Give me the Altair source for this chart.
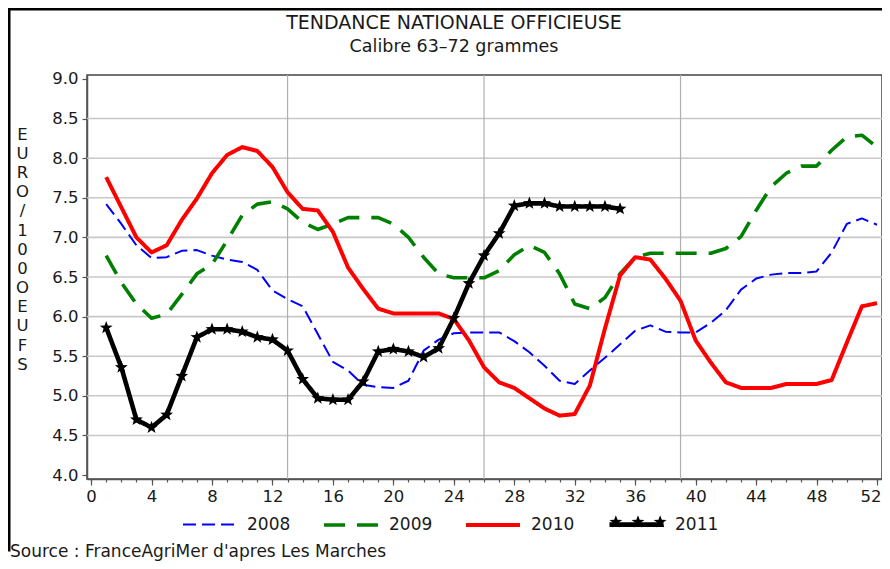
import math
import altair as alt
import pandas as pd

weeks = list(range(1, 53))
years = ["2008", "2009", "2010", "2011"]

p2008 = [7.42, 7.17, 6.90, 6.74, 6.75, 6.83, 6.84, 6.77, 6.72, 6.69,
         6.59, 6.33, 6.22, 6.13, 5.78, 5.43, 5.32, 5.14, 5.11, 5.10,
         5.19, 5.57, 5.71, 5.79, 5.80, 5.80, 5.80, 5.69, 5.55, 5.38,
         5.19, 5.15, 5.32, 5.48, 5.65, 5.82, 5.89, 5.81, 5.80, 5.80,
         5.92, 6.08, 6.34, 6.48, 6.53, 6.55, 6.55, 6.57, 6.81, 7.17, 7.24, 7.16]
p2009 = [6.77, 6.43, 6.16, 5.98, 6.03, 6.28, 6.54, 6.66, 6.96, 7.28,
         7.42, 7.45, 7.36, 7.19, 7.10, 7.17, 7.25, 7.25, 7.25, 7.17,
         7.00, 6.75, 6.54, 6.49, 6.49, 6.49, 6.58, 6.78, 6.90, 6.81,
         6.54, 6.16, 6.10, 6.24, 6.54, 6.75, 6.80, 6.80, 6.80, 6.80,
         6.80, 6.86, 7.01, 7.34, 7.64, 7.81, 7.90, 7.90, 8.10, 8.27, 8.29, 8.14]
p2010 = [7.76, 7.38, 7.00, 6.81, 6.90, 7.22, 7.49, 7.81, 8.04, 8.14,
         8.09, 7.89, 7.57, 7.36, 7.34, 7.07, 6.62, 6.35, 6.10, 6.04,
         6.04, 6.04, 6.04, 5.97, 5.70, 5.36, 5.17, 5.10, 4.97, 4.84,
         4.75, 4.77, 5.13, 5.85, 6.52, 6.75, 6.72, 6.48, 6.20, 5.70,
         5.42, 5.17, 5.10, 5.10, 5.10, 5.15, 5.15, 5.15, 5.20, 5.67, 6.13, 6.17]
p2011 = [5.86, 5.36, 4.70, 4.60, 4.76, 5.25, 5.74, 5.84, 5.84, 5.81,
         5.74, 5.71, 5.57, 5.21, 4.97, 4.95, 4.95, 5.18, 5.56, 5.59,
         5.56, 5.49, 5.60, 5.98, 6.42, 6.77, 7.05, 7.40, 7.43, 7.43,
         7.39, 7.39, 7.39, 7.39, 7.36]

x_ticks = list(range(0, 49, 4))
x_last = [52]
x_minor = list(range(0, 53))
y_ticks = [4.0, 4.5, 5.0, 5.5, 6.0, 6.5, 7.0, 7.5, 8.0, 8.5, 9.0]
y_grid = [4.5, 5.0, 5.5, 6.0, 6.5, 7.0, 7.5, 8.0, 8.5]
x_grid = [13, 26, 39]
y_title = ["E", "U", "R", "O", " ", "/", " ", "1", "0", "0",
           " ", "O", "E", "U", "F", "S"]

colors = ["#0000ff", "#008000", "#ff0000", "#000000"]
dashes = [[13, 6], [21, 12], [1, 0], [1, 0]]
widths = [2.0, 3.6, 4.0, 4.6]

FONT = "DejaVu Sans"
TXT = "#1a1a1a"
AX = "#555555"

rows = []
for yr, vals in zip(years, [p2008, p2009, p2010, p2011]):
    for w, v in zip(weeks, vals):
        rows.append({"week": w, "price": v, "year": yr})
df = pd.DataFrame(rows)
df11 = df[df["year"] == "2011"]


def star(cx, ro, ri):
    pts = []
    for k in range(10):
        a = math.radians(-90 + 36 * k)
        r = ro if k % 2 == 0 else ri
        pts.append(f"{cx + r * math.cos(a):.3f},{r * math.sin(a):.3f}")
    return "M" + " L".join(pts) + " Z"


one_star = star(0.0, 1.0, 0.42)
three_stars = " ".join(star(c, 0.25, 0.105) for c in (-0.82, 0.0, 0.82))

xscale = alt.Scale(domain=[-0.27, 52.33], nice=False, zero=False)
yscale = alt.Scale(domain=[3.95, 9.05], nice=False, zero=False)

leg = alt.Legend(
    title=None, orient="none", direction="horizontal", legendX=95, legendY=420,
    symbolType="stroke", symbolSize=2916, labelFont=FONT, labelFontSize=17,
    labelColor=TXT, labelOffset=9, columnPadding=25, padding=0,
)

hgrid = alt.Chart(pd.DataFrame({"g": y_grid})).mark_rule(
    color="#c8c8c8", strokeWidth=1.6
).encode(y=alt.Y("g:Q", scale=yscale, axis=None))

vgrid = alt.Chart(pd.DataFrame({"g": x_grid})).mark_rule(
    color="#b0b0b0", strokeWidth=1.2
).encode(
    x=alt.X("g:Q", scale=xscale,
            axis=alt.Axis(values=x_minor, tickSize=3, labels=False, domain=False,
                          grid=False, title=None, orient="bottom",
                          tickColor=AX, tickWidth=1.2))
)

lines = alt.Chart(df).mark_line(strokeJoin="round").encode(
    x=alt.X("week:Q", scale=xscale,
            axis=alt.Axis(values=x_ticks, tickSize=6, grid=False, title=None,
                          orient="bottom", labelFont=FONT, labelFontSize=16.5,
                          labelColor=TXT, labelPadding=3, tickColor=AX,
                          tickWidth=1.2, domainColor=AX, domainWidth=1.5)),
    y=alt.Y("price:Q", scale=yscale,
            axis=alt.Axis(values=y_ticks, format=".1f", tickSize=5, grid=False,
                          orient="left",
                          labelFont=FONT, labelFontSize=16.5, labelColor=TXT,
                          labelPadding=4, tickColor=AX, tickWidth=1.2,
                          domainColor=AX, domainWidth=1.5,
                          title=y_title,
                          titleAngle=0, titleAlign="center", titleBaseline="top",
                          titleX=-65, titleY=51, titleLineHeight=19.2,
                          titleFont=FONT, titleFontSize=16.5,
                          titleFontWeight="normal", titleColor=TXT)),
    color=alt.Color("year:N", scale=alt.Scale(domain=years, range=colors), legend=leg),
    strokeDash=alt.StrokeDash("year:N", scale=alt.Scale(domain=years, range=dashes), legend=leg),
    strokeWidth=alt.StrokeWidth("year:N", scale=alt.Scale(type="ordinal", domain=years, range=widths), legend=leg),
    order="week:Q",
)

stars = alt.Chart(df11).mark_point(
    shape=one_star, filled=True, color="black", size=180, opacity=1
).encode(
    x=alt.X("week:Q", scale=xscale,
            axis=alt.Axis(values=x_last, tickSize=6, grid=False, title=None,
                          orient="bottom", domain=False, labelFont=FONT,
                          labelFontSize=16.5, labelColor=TXT, labelPadding=3,
                          labelAlign="right", labelOffset=4, tickColor=AX,
                          tickWidth=1.2)),
    y=alt.Y("price:Q", scale=yscale, axis=None),
)

star_legend = alt.Chart(df11.head(1)).mark_point(filled=True, color="black", opacity=0).encode(
    x=alt.X("week:Q", scale=xscale, axis=None),
    y=alt.Y("price:Q", scale=yscale, axis=None),
    shape=alt.Shape("year:N", scale=alt.Scale(domain=["2011"], range=[three_stars]),
                    legend=alt.Legend(title=None, orient="none", legendX=524, legendY=420,
                                      symbolSize=2916, symbolOpacity=1,
                                      symbolFillColor="black", symbolStrokeWidth=0,
                                      labelOpacity=0, labelFontSize=1, padding=0)),
)

one = pd.DataFrame({"k": [0]})
frame_top = alt.Chart(one).mark_rule(color="black", strokeWidth=3, strokeCap="square").encode(
    x=alt.value(-78), x2=alt.value(810), y=alt.value(-66))
frame_left = alt.Chart(one).mark_rule(color="black", strokeWidth=3, strokeCap="square").encode(
    x=alt.value(-78), y=alt.value(-66), y2=alt.value(475))
source = alt.Chart(one).mark_text(
    text="Source : FranceAgriMer d'apres Les Marches", align="left",
    baseline="alphabetic", font=FONT, fontSize=17, color=TXT
).encode(x=alt.value(-77), y=alt.value(482))
title = alt.Chart(one).mark_text(
    text="TENDANCE NATIONALE OFFICIEUSE", align="center", baseline="alphabetic",
    font=FONT, fontSize=19, color=TXT
).encode(x=alt.value(367), y=alt.value(-46))
subtitle = alt.Chart(one).mark_text(
    text="Calibre 63–72 grammes", align="center", baseline="alphabetic",
    font=FONT, fontSize=17.5, color=TXT
).encode(x=alt.value(367), y=alt.value(-23))

chart = alt.layer(
    hgrid, vgrid, lines, stars, star_legend, frame_top, frame_left, source,
    title, subtitle
).resolve_axis(x="independent", y="independent").properties(
    width=795, height=404,
    autosize=alt.AutoSizeParams(type="none"),
    padding={"left": 79, "top": 67, "right": 0, "bottom": 82},
).configure_view(stroke="#444444", strokeWidth=1.5)

chart.save("out.html", embed_options={"renderer": "svg", "actions": False})
